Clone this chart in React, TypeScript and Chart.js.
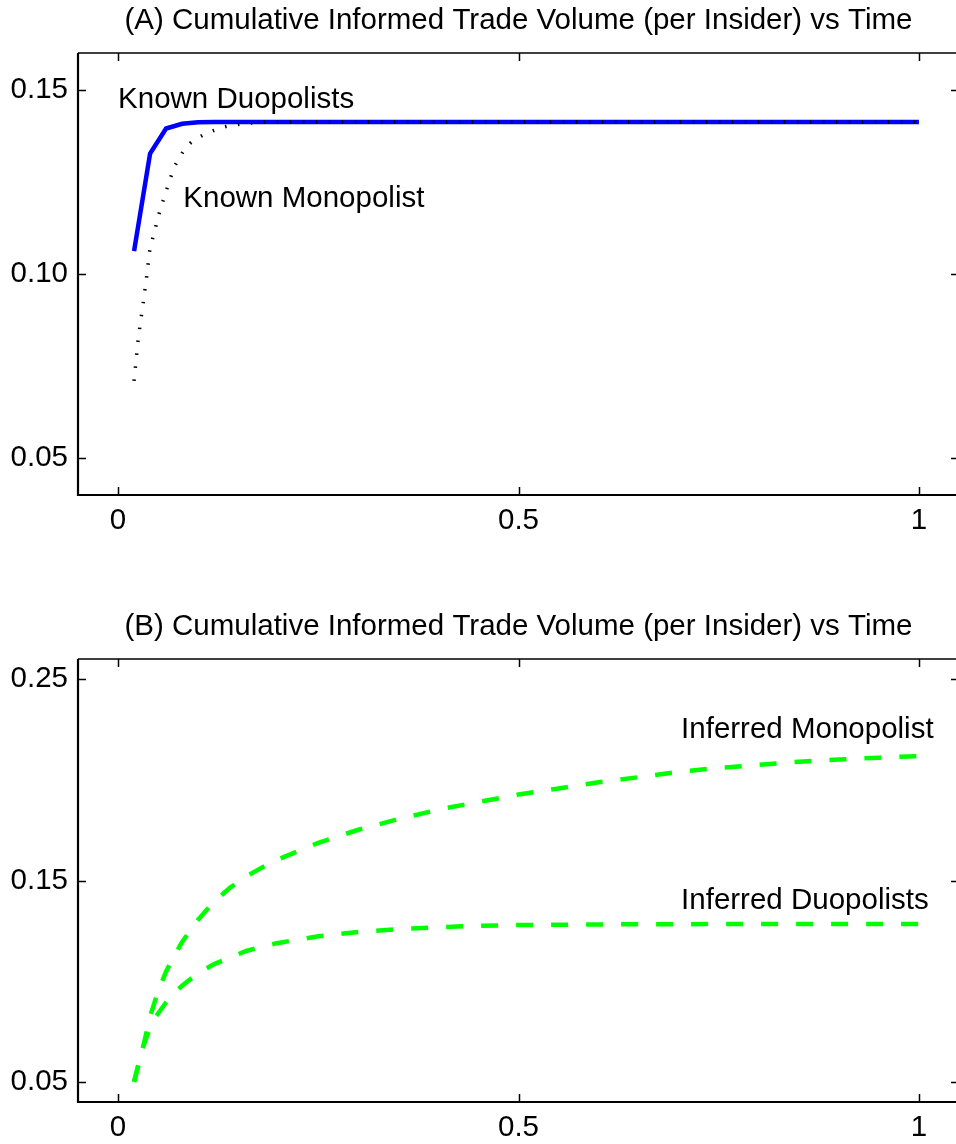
import React, { useEffect, useRef } from "react";
import { Chart, registerables } from "chart.js";

Chart.register(...registerables);

// ---------- Panel A data ----------
const titleA = "(A) Cumulative Informed Trade Volume (per Insider) vs Time";
const knownDuoT = [0.02, 0.04, 0.06, 0.08, 0.10, 0.12, 0.14, 0.16, 0.20, 0.30, 0.40, 0.50, 0.60, 0.70, 0.80, 0.90, 1.00];
const knownDuoV = [0.1062, 0.1327, 0.1395, 0.1408, 0.1412, 0.1413, 0.1413, 0.1413, 0.1413, 0.1413, 0.1413, 0.1413, 0.1413, 0.1413, 0.1413, 0.1413, 0.1413];
const knownMonoT = [0.02, 0.025, 0.03, 0.035, 0.04, 0.045, 0.05, 0.06, 0.07, 0.08, 0.09, 0.10, 0.11, 0.12, 0.13, 0.14, 0.16, 0.18, 0.20, 0.30, 0.40, 0.50, 0.60, 0.70, 0.80, 0.90, 1.00];
const knownMonoV = [0.0710, 0.0820, 0.0900, 0.0980, 0.1072, 0.1110, 0.1155, 0.1225, 0.1290, 0.1328, 0.1355, 0.1370, 0.1382, 0.1390, 0.1398, 0.1403, 0.1409, 0.1412, 0.1413, 0.1413, 0.1413, 0.1413, 0.1413, 0.1413, 0.1413, 0.1413, 0.1413];
const yTicksA = [0.05, 0.10, 0.15];

// ---------- Panel B data ----------
const titleB = "(B) Cumulative Informed Trade Volume (per Insider) vs Time";
const infMonoT = [0.02, 0.03, 0.04, 0.05, 0.06, 0.07, 0.08, 0.10, 0.12, 0.14, 0.16, 0.18, 0.20, 0.25, 0.30, 0.35, 0.40, 0.45, 0.50, 0.55, 0.60, 0.65, 0.70, 0.75, 0.80, 0.85, 0.90, 0.95, 1.00];
const infMonoV = [0.050, 0.065, 0.0825, 0.0950, 0.1048, 0.1125, 0.1195, 0.1305, 0.1395, 0.1465, 0.1520, 0.1565, 0.1605, 0.1687, 0.1752, 0.1805, 0.1852, 0.1890, 0.1927, 0.1957, 0.1988, 0.2013, 0.2040, 0.2059, 0.2074, 0.2090, 0.2101, 0.2110, 0.2118];
const infDuoT = [0.02, 0.03, 0.04, 0.05, 0.06, 0.07, 0.08, 0.10, 0.12, 0.14, 0.16, 0.18, 0.20, 0.25, 0.30, 0.35, 0.40, 0.45, 0.50, 0.60, 0.70, 0.80, 0.90, 1.00];
const infDuoV = [0.050, 0.066, 0.077, 0.084, 0.0895, 0.0940, 0.0978, 0.1040, 0.1085, 0.1118, 0.1150, 0.1172, 0.1190, 0.1223, 0.1244, 0.1258, 0.1268, 0.1275, 0.1279, 0.1282, 0.1283, 0.1284, 0.1284, 0.1284];
const yTicksB = [0.05, 0.15, 0.25];

// ---------- shared ----------
const xTicks = [0, 0.5, 1];
const xTickLabels = ["0", "0.5", "1"];

const FONT = "'Liberation Sans', Arial, Helvetica, sans-serif";
const FS = 29.5;

type Label = { text: string; x: number; y: number };

function pts(t: number[], v: number[]) {
  return t.map((x, i) => ({ x, y: v[i] }));
}

function overlayPlugin(title: string, labels: Label[], yTicks: number[]) {
  return {
    id: "overlay",
    afterDraw(chart: any) {
      const { ctx, chartArea } = chart;
      const xs = chart.scales.x;
      const ys = chart.scales.y;
      const { left, right, top, bottom } = chartArea;
      ctx.save();
      // box
      ctx.strokeStyle = "#000";
      ctx.lineWidth = 1.5;
      ctx.beginPath();
      ctx.moveTo(left, top);
      ctx.lineTo(right, top);
      ctx.lineTo(right, bottom);
      ctx.stroke();
      ctx.lineWidth = 2.2;
      ctx.beginPath();
      ctx.moveTo(left, top);
      ctx.lineTo(left, bottom);
      ctx.lineTo(right, bottom);
      ctx.stroke();
      // inward ticks
      const TL = 8;
      ctx.lineWidth = 1.5;
      ctx.beginPath();
      xTicks.forEach((v) => {
        const px = Math.round(xs.getPixelForValue(v)) + 0.5;
        ctx.moveTo(px, bottom);
        ctx.lineTo(px, bottom - TL);
        ctx.moveTo(px, top);
        ctx.lineTo(px, top + TL);
      });
      yTicks.forEach((v) => {
        const py = Math.round(ys.getPixelForValue(v)) + 0.5;
        ctx.moveTo(left, py);
        ctx.lineTo(left + TL, py);
        ctx.moveTo(right, py);
        ctx.lineTo(right - TL, py);
      });
      ctx.stroke();
      // title
      ctx.fillStyle = "#000";
      ctx.font = `${FS}px ${FONT}`;
      ctx.textAlign = "center";
      ctx.textBaseline = "alphabetic";
      ctx.fillText(title, (left + right) / 2, top - 24);
      // curve labels
      ctx.textAlign = "left";
      ctx.textBaseline = "middle";
      labels.forEach((l) => {
        ctx.fillText(l.text, xs.getPixelForValue(l.x), ys.getPixelForValue(l.y));
      });
      ctx.restore();
    },
  };
}

function makeConfig(datasets: any[], yMin: number, yMax: number, yTicks: number[], topPad: number, xAxisHeight: number, title: string, labels: Label[]) {
  return {
    type: "line",
    data: { datasets },
    options: {
      animation: false,
      responsive: false,
      devicePixelRatio: 1,
      layout: { padding: { top: topPad, right: 3, left: 0, bottom: 0 } },
      plugins: { legend: { display: false }, tooltip: { enabled: false }, title: { display: false } },
      elements: { point: { radius: 0 }, line: { tension: 0 } },
      scales: {
        x: {
          type: "linear",
          min: -0.05,
          max: 1.05,
          grid: { display: false, drawTicks: false },
          border: { display: false },
          afterBuildTicks: (s: any) => {
            s.ticks = xTicks.map((v) => ({ value: v }));
          },
          afterFit: (s: any) => {
            s.height = xAxisHeight;
          },
          ticks: {
            padding: 8,
            color: "#000",
            font: { family: FONT, size: FS },
            maxRotation: 0,
            autoSkip: false,
            callback: (v: number) => xTickLabels[xTicks.indexOf(v)] ?? "",
          },
        },
        y: {
          type: "linear",
          min: yMin,
          max: yMax,
          grid: { display: false, drawTicks: false },
          border: { display: false },
          afterBuildTicks: (s: any) => {
            s.ticks = yTicks.map((v) => ({ value: v }));
          },
          afterFit: (s: any) => {
            s.width = 78;
          },
          ticks: {
            padding: 10,
            color: "#000",
            font: { family: FONT, size: FS },
            autoSkip: false,
            callback: (v: number) => Number(v).toFixed(2),
          },
        },
      },
    },
    plugins: [overlayPlugin(title, labels, yTicks)],
  };
}

export default function App() {
  const refA = useRef<HTMLCanvasElement>(null);
  const refB = useRef<HTMLCanvasElement>(null);

  useEffect(() => {
    const dsA = [
      {
        label: "Known Monopolist",
        data: pts(knownMonoT, knownMonoV),
        borderColor: "#000000",
        borderWidth: 3.5,
        borderDash: [1.5, 11.5],
        borderCapStyle: "butt",
        fill: false,
      },
      {
        label: "Known Duopolists",
        data: pts(knownDuoT, knownDuoV),
        borderColor: "#0000FF",
        borderWidth: 4.5,
        fill: false,
      },
    ];
    const dsB = [
      {
        label: "Inferred Monopolist",
        data: pts(infMonoT, infMonoV),
        borderColor: "#00FF00",
        borderWidth: 4.5,
        borderDash: [17, 18],
        borderCapStyle: "butt",
        fill: false,
      },
      {
        label: "Inferred Duopolists",
        data: pts(infDuoT, infDuoV),
        borderColor: "#00FF00",
        borderWidth: 4.5,
        borderDash: [17, 18],
        borderCapStyle: "butt",
        fill: false,
      },
    ];
    const labelsA: Label[] = [
      { text: "Known Duopolists", x: 0.0, y: 0.1473 },
      { text: "Known Monopolist", x: 0.0815, y: 0.1203 },
    ];
    const labelsB: Label[] = [
      { text: "Inferred Monopolist", x: 0.703, y: 0.2248 },
      { text: "Inferred Duopolists", x: 0.703, y: 0.1397 },
    ];
    const cA = new Chart(refA.current as any, makeConfig(dsA, 0.04, 0.16, yTicksA, 53, 570 - 495, titleA, labelsA) as any);
    const cB = new Chart(refB.current as any, makeConfig(dsB, 0.04, 0.26, yTicksB, 659 - 570, 1144 - 570 - (1102 - 570), titleB, labelsB) as any);
    return () => {
      cA.destroy();
      cB.destroy();
    };
  }, []);

  return (
    <div style={{ position: "absolute", left: 0, top: 0, width: 956, height: 1144, overflow: "hidden", background: "#fff" }}>
      <canvas ref={refA} width={962} height={570} style={{ position: "absolute", left: 0, top: 0, width: 962, height: 570 }} />
      <canvas ref={refB} width={962} height={574} style={{ position: "absolute", left: 0, top: 570, width: 962, height: 574 }} />
    </div>
  );
}
